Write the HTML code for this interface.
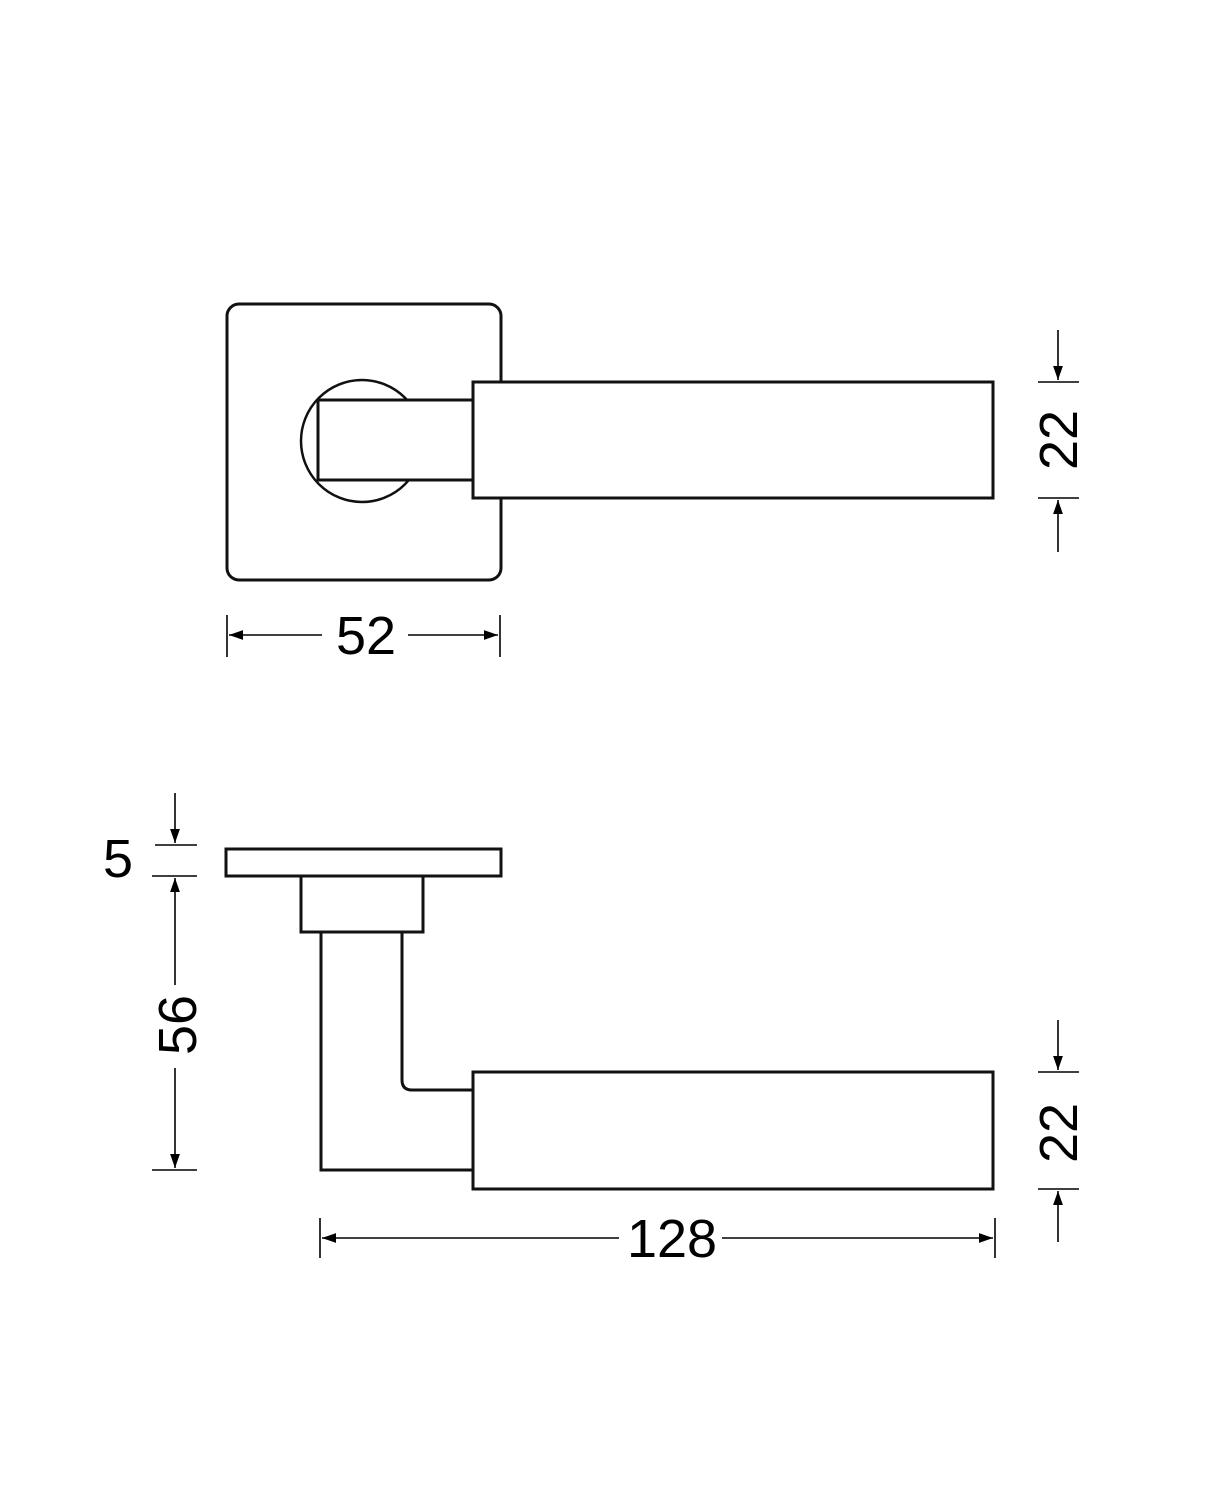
<!DOCTYPE html>
<html><head><meta charset="utf-8"><style>html,body{margin:0;padding:0;background:#fff}svg{display:block}</style></head><body>
<svg width="1220" height="1500" viewBox="0 0 1220 1500" xmlns="http://www.w3.org/2000/svg">
<defs>
<marker id="a" viewBox="0 0 10 10" refX="10" refY="5" markerWidth="14" markerHeight="14" markerUnits="userSpaceOnUse" orient="auto"><path d="M0,1.5 L10,5 L0,8.5Z" fill="#000"/></marker>
</defs>
<g fill="none" stroke="#111" stroke-width="3">
<rect x="227" y="304" width="274" height="276" rx="12"/>
<circle cx="362" cy="441" r="61" stroke-width="2.5"/>
<rect x="318" y="400" width="155" height="80" fill="#fff"/>
<rect x="473" y="382" width="520" height="116" fill="#fff"/>
</g>
<g stroke="#000" stroke-width="1.6" fill="none">
<line x1="227" y1="615" x2="227" y2="657"/><line x1="500" y1="615" x2="500" y2="657"/>
<line x1="322" y1="635" x2="229" y2="635" marker-end="url(#a)"/>
<line x1="408" y1="635" x2="498" y2="635" marker-end="url(#a)"/>
<line x1="1038" y1="382" x2="1079" y2="382"/><line x1="1038" y1="498" x2="1079" y2="498"/>
<line x1="1058" y1="330" x2="1058" y2="380" marker-end="url(#a)"/>
<line x1="1058" y1="552" x2="1058" y2="500" marker-end="url(#a)"/>
</g>
<g fill="none" stroke="#111" stroke-width="3">
<rect x="226" y="849" width="275" height="27"/>
<rect x="301" y="876" width="122" height="56"/>
<path d="M321,932 V1170 H473"/>
<path d="M402,932 V1080 Q402,1090 412,1090 H473"/>
<rect x="473" y="1072" width="520" height="117" fill="#fff"/>
</g>
<g stroke="#000" stroke-width="1.6" fill="none">
<line x1="155" y1="845" x2="197" y2="845"/><line x1="152" y1="876" x2="197" y2="876"/><line x1="152" y1="1170" x2="197" y2="1170"/>
<line x1="175" y1="793" x2="175" y2="843" marker-end="url(#a)"/>
<line x1="175" y1="985" x2="175" y2="878" marker-end="url(#a)"/>
<line x1="175" y1="1068" x2="175" y2="1168" marker-end="url(#a)"/>
<line x1="1038" y1="1072" x2="1079" y2="1072"/><line x1="1038" y1="1189" x2="1079" y2="1189"/>
<line x1="1058" y1="1020" x2="1058" y2="1070" marker-end="url(#a)"/>
<line x1="1058" y1="1242" x2="1058" y2="1191" marker-end="url(#a)"/>
<line x1="320" y1="1218" x2="320" y2="1258"/><line x1="995" y1="1218" x2="995" y2="1258"/>
<line x1="619" y1="1238" x2="322" y2="1238" marker-end="url(#a)"/>
<line x1="722" y1="1238" x2="993" y2="1238" marker-end="url(#a)"/>
</g>
<g font-family="Liberation Sans, sans-serif" font-size="54" fill="#000" text-anchor="middle">
<text x="366" y="654">52</text>
<text transform="translate(1077,440) rotate(-90)">22</text>
<text transform="translate(1077,1133) rotate(-90)">22</text>
<text transform="translate(196,1025) rotate(-90)">56</text>
<text x="118" y="877">5</text>
<text x="672" y="1257">128</text>
</g>
</svg>
</body></html>
